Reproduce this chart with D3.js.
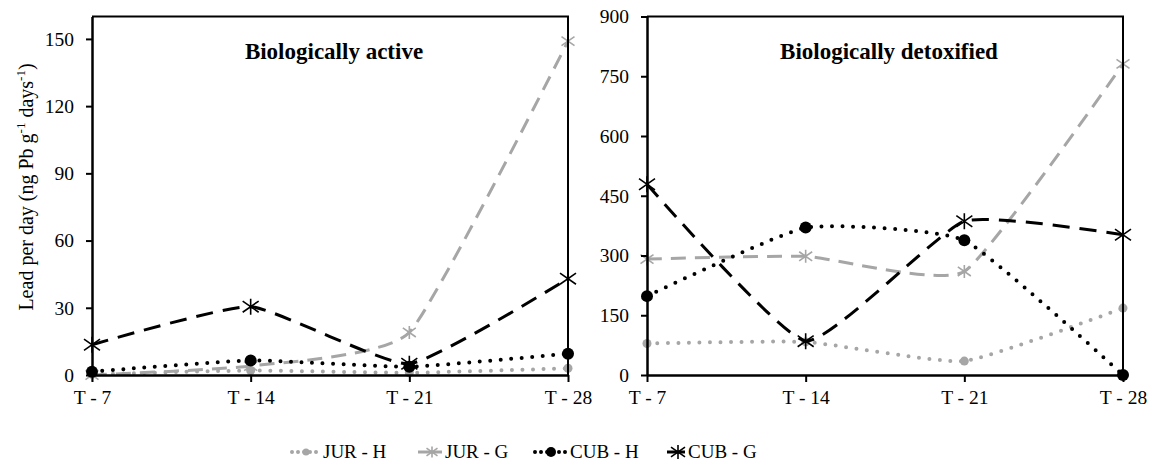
<!DOCTYPE html>
<html lang="en">
<head>
  <meta charset="utf-8" />
  <title>Lead per day</title>
  <script src="https://unpkg.com/d3@7.9.0/dist/d3.min.js"></script>
  <style>
    html,body{margin:0;padding:0;background:#fff;}
    svg, svg text{font-family:"Liberation Serif","DejaVu Serif","Times New Roman",serif !important;}
    svg{display:block;}
  </style>
</head>
<body>
<svg id="svg" width="1153" height="469"></svg>
<script>
// ----- data -----
const days = ['T - 7', 'T - 14', 'T - 21', 'T - 28'];
const seriesNames = ['JUR - H', 'JUR - G', 'CUB - H', 'CUB - G'];
// biologically active
const activeJurH = [0.3, 2, 1, 3];
const activeJurG = [0, 4, 19, 149];
const activeCubH = [1.5, 6.5, 3.7, 9.5];
const activeCubG = [13.5, 30.5, 5, 43];
// biologically detoxified
const detoxJurH = [79, 83, 35, 168];
const detoxJurG = [291, 298, 260, 781];
const detoxCubH = [198, 370, 338, 0];
const detoxCubG = [479, 85, 386, 352];
const activeTicks = [0, 30, 60, 90, 120, 150];
const detoxTicks = [0, 150, 300, 450, 600, 750, 900];

const grey = '#a6a6a6';
const serif = '"Liberation Serif","DejaVu Serif",serif';
const styles = [
  {color: grey, width: 4, dash: '0 10.5', cap: 'round', marker: 'circle', size: 4.5},
  {color: grey, width: 3, dash: '15 9', cap: 'butt', marker: 'star', size: 6.5},
  {color: '#000', width: 4, dash: '0 10.5', cap: 'round', marker: 'circle', size: 6},
  {color: '#000', width: 3, dash: '17 10', cap: 'butt', marker: 'star', size: 8}
];

const svg = d3.select('#svg');
const yTop = 16.5, yBottom = 375;

function star(g, x, y, s, color) {
  return g.append('path')
    .attr('d', `M${x},${y - s}L${x},${y + s}M${x - s},${y - s * 0.7}L${x + s},${y + s * 0.7}M${x - s},${y + s * 0.7}L${x + s},${y - s * 0.7}`)
    .attr('stroke', color).attr('stroke-width', 1.6).attr('fill', 'none');
}

function panel(x0, x1, ymax, ticks, data, title) {
  const x = d3.scalePoint().domain(days).range([x0, x1]).padding(0);
  const y = d3.scaleLinear().domain([0, ymax]).range([yBottom, yTop]);
  const g = svg.append('g');

  const line = d3.line()
    .x((d, i) => x(days[i]))
    .y(d => y(d))
    .curve(d3.curveCardinal.tension(0.55));

  data.forEach((vals, k) => {
    const st = styles[k];
    g.append('path').attr('d', line(vals))
      .attr('fill', 'none').attr('stroke', st.color)
      .attr('stroke-width', st.width).attr('stroke-dasharray', st.dash)
      .attr('stroke-linecap', st.cap);
    vals.forEach((v, i) => {
      if (st.marker === 'circle') {
        g.append('circle').attr('cx', x(days[i])).attr('cy', y(v)).attr('r', st.size).attr('fill', st.color);
      } else {
        star(g, x(days[i]), y(v), st.size, st.color);
      }
    });
  });

  // frame
  g.append('path').attr('d', `M${x0},${yTop}H${x1}V${yBottom}`)
    .attr('fill', 'none').attr('stroke', '#000').attr('stroke-width', 2);

  const yAxis = g.append('g').attr('transform', `translate(${x0},0)`)
    .call(d3.axisLeft(y).tickValues(ticks).tickSize(6).tickSizeOuter(0).tickPadding(12));
  const xAxis = g.append('g').attr('transform', `translate(0,${yBottom})`)
    .call(d3.axisBottom(x).tickSize(7).tickSizeOuter(0).tickPadding(8));
  [yAxis, xAxis].forEach(a => {
    a.attr('font-family', serif);
    a.select('.domain').attr('stroke-width', 2.5);
    a.selectAll('.tick line').attr('stroke-width', 2);
    a.selectAll('text').attr('font-size', 19.5).attr('fill', '#000');
  });

  g.append('text').attr('x', (x0 + x1) / 2 + 4).attr('y', 59)
    .attr('text-anchor', 'middle').attr('font-weight', 'bold').attr('font-size', 23)
    .text(title);
}

panel(92, 568, 160, activeTicks, [activeJurH, activeJurG, activeCubH, activeCubG], 'Biologically active');
panel(647, 1123, 900, detoxTicks, [detoxJurH, detoxJurG, detoxCubH, detoxCubG], 'Biologically detoxified');

// y label
const yl = svg.append('text').attr('transform', 'translate(33,187) rotate(-90)')
  .attr('text-anchor', 'middle').attr('font-size', 20);
yl.append('tspan').text('Lead per day (ng Pb g');
yl.append('tspan').attr('font-size', 13).attr('dy', -8).text('-1');
yl.append('tspan').attr('dy', 8).text(' days');
yl.append('tspan').attr('font-size', 13).attr('dy', -8).text('-1');
yl.append('tspan').attr('dy', 8).text(')');

// legend
const legX = [292, 418, 535, 667];
const legW = [28, 24, 32, 18];
const legY = 458;
seriesNames.forEach((name, k) => {
  const st = styles[k];
  const lg = svg.append('g');
  const xa = legX[k], xb = legX[k] + legW[k], xm = (xa + xb) / 2;
  lg.append('line').attr('x1', xa).attr('x2', xb).attr('y1', legY - 6).attr('y2', legY - 6)
    .attr('stroke', st.color).attr('stroke-width', st.width)
    .attr('stroke-dasharray', st.marker === 'circle' ? '0 6' : null)
    .attr('stroke-linecap', st.cap);
  if (st.marker === 'circle') {
    lg.append('circle').attr('cx', xm).attr('cy', legY - 6).attr('r', st.size - 1).attr('fill', st.color);
  } else {
    star(lg, xm + 2, legY - 6, st.size - 1, st.color);
  }
  lg.append('text').attr('x', xb + 3).attr('y', legY).attr('font-size', 19).text(name);
});
</script>
</body>
</html>
